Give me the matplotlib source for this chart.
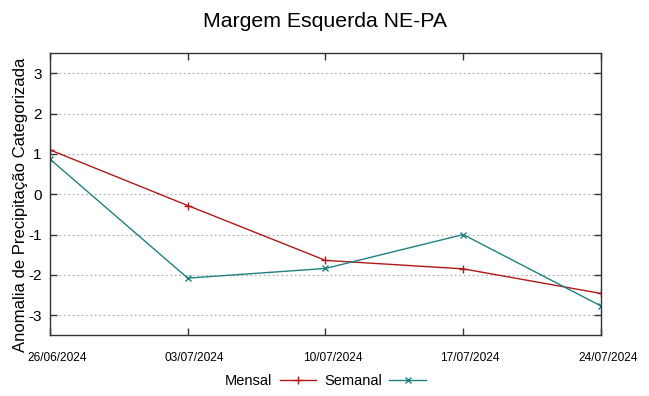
import matplotlib
matplotlib.use('Agg')
import matplotlib.pyplot as plt
import matplotlib.dates as mdates
import matplotlib.transforms as mtransforms
from datetime import datetime

# Datas e valores das séries
datas = ['26/06/2024', '03/07/2024', '10/07/2024', '17/07/2024', '24/07/2024']
mensal = [1.1, -0.28, -1.64, -1.85, -2.46]
semanal = [0.87, -2.08, -1.84, -1.0, -2.77]

x = [datetime.strptime(d, '%d/%m/%Y') for d in datas]

plt.rcParams['font.family'] = ['Liberation Sans', 'DejaVu Sans']
plt.rcParams['axes.unicode_minus'] = False

fig = plt.figure(figsize=(6.49, 3.96), dpi=100)
ax = fig.add_axes([0.077, 0.153, 0.849, 0.713])

ax.plot(x, mensal, color='#b01818', linewidth=1, marker='+', markersize=6,
        markeredgewidth=1, label='Mensal')
ax.plot(x, semanal, color='#208080', linewidth=1, marker='x', markersize=5,
        markeredgewidth=1, label='Semanal')

ax.set_xlim(x[0], x[-1])
ax.set_ylim(-3.5, 3.5)
ax.set_yticks([-3, -2, -1, 0, 1, 2, 3])
ax.set_xticks(x)
ax.xaxis.set_major_formatter(mdates.DateFormatter('%d/%m/%Y'))

ax.grid(axis='y', color='#a8a8a8', linestyle=(0, (1.5, 2.5)), linewidth=0.8)
ax.tick_params(direction='in', top=True, right=True, length=5, width=1,
               color='#333333')
ax.tick_params(axis='y', labelsize=11, pad=6)
ax.tick_params(axis='x', labelsize=8.6, pad=12)
for s in ax.spines.values():
    s.set_color('#333333')
    s.set_linewidth(1)

# rótulos de data levemente deslocados para a direita, como no original
desloc = mtransforms.ScaledTranslation(7 / 100, 0, fig.dpi_scale_trans)
for lbl in ax.get_xticklabels():
    lbl.set_transform(lbl.get_transform() + desloc)

ax.set_title('Margem Esquerda NE-PA', fontsize=15.3, pad=19)
ax.set_ylabel('Anomalia de Precipitação Categorizada', fontsize=12)
ax.yaxis.set_label_coords(-0.04, 0.463)

ax.legend(loc='upper center', bbox_to_anchor=(0.5, -0.09), ncol=2,
          frameon=False, markerfirst=False, fontsize=10.5, handlelength=2.5,
          columnspacing=0.55, handletextpad=0.5)

plt.savefig('out.png', dpi=100)
